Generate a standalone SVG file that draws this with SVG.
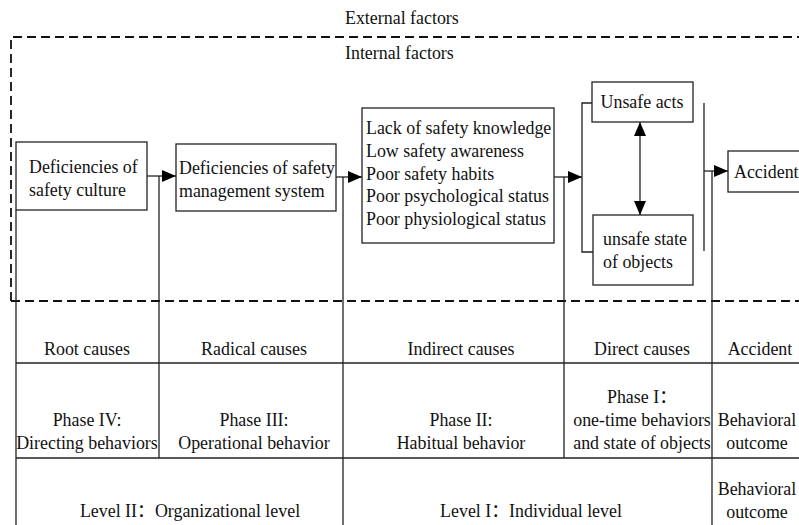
<svg xmlns="http://www.w3.org/2000/svg" width="799" height="525" viewBox="0 0 799 525">
<style>
text{font-family:"Liberation Serif","Noto Sans CJK SC",serif;font-size:17.9px;fill:#111}
.c{text-anchor:middle}
.box{fill:#fff;stroke:#222;stroke-width:1.3}
.ln{stroke:#222;stroke-width:1.3;fill:none}
.dash{stroke:#111;stroke-width:1.8;fill:none;stroke-dasharray:9 5}
</style>
<defs>
<marker id="ah" markerWidth="14" markerHeight="12" refX="14" refY="6" orient="auto" markerUnits="userSpaceOnUse">
<path d="M0,0 L14,6 L0,12 Z" fill="#000"/>
</marker>
<marker id="ahs" markerWidth="14" markerHeight="12" refX="14" refY="6" orient="auto-start-reverse" markerUnits="userSpaceOnUse">
<path d="M0,0 L14,6 L0,12 Z" fill="#000"/>
</marker>
</defs>
<rect width="799" height="525" fill="#fff"/>
<g id="frame">
<path class="dash" d="M11,301 V37 H799"/>
<path class="dash" d="M11,301 H799"/>
<text x="345" y="24">External factors</text>
<text x="345" y="59">Internal factors</text>
</g>
<g id="connectors">
<line class="ln" x1="147" y1="176" x2="176" y2="176" marker-end="url(#ah)"/>
<line class="ln" x1="159" y1="176" x2="159" y2="458"/>
<line class="ln" x1="336" y1="177" x2="362" y2="177" marker-end="url(#ah)"/>
<line class="ln" x1="343" y1="177" x2="343" y2="525"/>
<line class="ln" x1="554" y1="177" x2="582" y2="177" marker-end="url(#ah)"/>
<line class="ln" x1="564" y1="177" x2="564" y2="458"/>
<path class="ln" d="M592,103 H582 V252 H593"/>
<line class="ln" x1="640" y1="122" x2="640" y2="215" marker-start="url(#ahs)" marker-end="url(#ahs)"/>
<line class="ln" x1="704" y1="103" x2="704" y2="251"/>
<line class="ln" x1="704" y1="171" x2="728" y2="171" marker-end="url(#ah)"/>
<line class="ln" x1="712" y1="171" x2="712" y2="525"/>
<line class="ln" x1="16" y1="210" x2="16" y2="525"/>
</g>
<g id="culture">
<rect class="box" x="16" y="142" width="131" height="68"/>
<text x="29" y="173">Deficiencies of</text>
<text x="29" y="196">safety culture</text>
</g>
<g id="management">
<rect class="box" x="176" y="144" width="160" height="67"/>
<text x="179" y="174">Deficiencies of safety</text>
<text x="179" y="197">management system</text>
</g>
<g id="individual">
<rect class="box" x="362" y="108" width="192" height="135"/>
<text x="366" y="134">Lack of safety knowledge</text>
<text x="366" y="157">Low safety awareness</text>
<text x="366" y="180">Poor safety habits</text>
<text x="366" y="202">Poor psychological status</text>
<text x="366" y="225">Poor physiological status</text>
</g>
<g id="acts">
<rect class="box" x="592" y="82" width="101" height="40"/>
<text class="c" x="642" y="108">Unsafe acts</text>
</g>
<g id="state">
<rect class="box" x="593" y="215" width="100" height="70"/>
<text x="603" y="245">unsafe state</text>
<text x="603" y="268">of objects</text>
</g>
<g id="accident">
<rect class="box" x="728" y="151" width="80" height="41"/>
<text x="734" y="178">Accident</text>
</g>
<g id="table">
<line class="ln" x1="16" y1="363" x2="799" y2="363"/>
<line class="ln" x1="16" y1="458" x2="799" y2="458"/>
<text class="c" x="87" y="355">Root causes</text>
<text class="c" x="254" y="355">Radical causes</text>
<text class="c" x="461" y="355">Indirect causes</text>
<text class="c" x="642" y="355">Direct causes</text>
<text class="c" x="760" y="355">Accident</text>
<text class="c" x="87" y="426">Phase IV:</text>
<text class="c" x="87" y="449">Directing behaviors</text>
<text class="c" x="254" y="426">Phase III:</text>
<text class="c" x="254" y="449">Operational behavior</text>
<text class="c" x="461" y="426">Phase II:</text>
<text class="c" x="461" y="449">Habitual behavior</text>
<text class="c" x="642" y="403">Phase I：</text>
<text class="c" x="642" y="426">one-time behaviors</text>
<text class="c" x="642" y="449">and state of objects</text>
<text class="c" x="757" y="426">Behavioral</text>
<text class="c" x="757" y="449">outcome</text>
<text class="c" x="190" y="517">Level II：Organizational level</text>
<text class="c" x="531" y="517">Level I：Individual level</text>
<text class="c" x="757" y="495">Behavioral</text>
<text class="c" x="757" y="518">outcome</text>
</g>
</svg>
